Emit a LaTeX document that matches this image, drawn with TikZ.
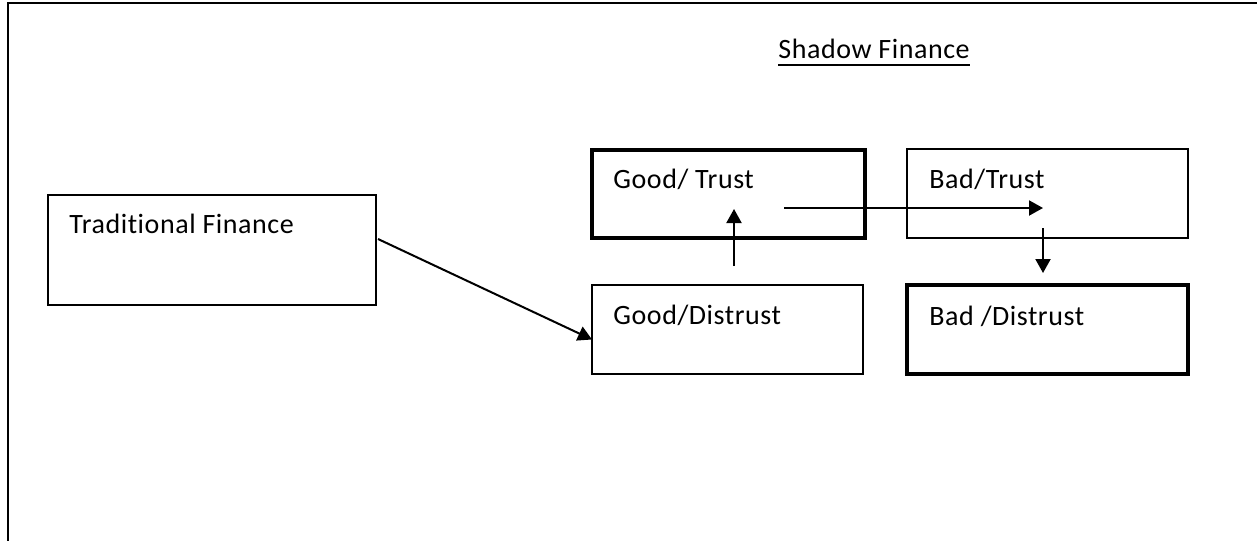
\documentclass[tikz,border=0pt]{standalone}
\usepackage{fontspec}
\setmainfont[Ligatures=NoCommon, LetterSpace=2]{Carlito}
\usetikzlibrary{arrows.meta,calc}
\tikzset{
  thinbox/.style={draw, line width=0.75pt, minimum width=#1, inner sep=0pt, outer sep=0pt, anchor=north west},
  thickbox/.style={draw, line width=1.6pt, minimum width=#1, inner sep=0pt, outer sep=0pt, anchor=north west},
  label text/.style={anchor=base west, inner sep=0pt, font=\fontsize{14}{16}\selectfont},
  flow/.style={line width=1pt, -{Triangle[length=7pt,width=7.5pt]}},
  frame/.style={line width=1pt}
}
\begin{document}
\begin{tikzpicture}[x=0.5pt, y=-0.5pt]
  \useasboundingbox (0,0) rectangle (1257,541);

  % outer frame (open at right and bottom)
  \coordinate (fr) at (1257,3);
  \coordinate (fc) at (8,3);
  \coordinate (fb) at (8,541);
  \draw[frame] (fr) -- (fc) -- (fb);

  % title
  \node[label text] (sf) at (778,58) {Shadow Finance};
  \draw[line width=0.75pt] ($(sf.base west)+(0,7)$) -- ($(sf.base east)+(0,7)$);

  % boxes
  \node[thinbox=164pt, minimum height=55pt] (trad) at (48,195) {};
  \node[thickbox=136.5pt, minimum height=44pt] (gt) at (592,150) {};
  \node[thinbox=135.5pt, minimum height=44.5pt] (gd) at (592,285) {};
  \node[thinbox=140.5pt, minimum height=44.5pt] (bt) at (907,149) {};
  \node[thickbox=140.5pt, minimum height=44.5pt] (bd) at (907,285) {};

  % box texts
  \node[label text] (tradt) at ($(trad.north west)+(21,38)$) {Traditional Finance};
  \node[label text] (gtt) at ($(gt.north west)+(21,38)$) {Good/ Trust};
  \node[label text] (gdt) at ($(gd.north west)+(21,39)$) {Good/Distrust};
  \node[label text] (btt) at ($(bt.north west)+(22,39)$) {Bad/Trust};
  \node[label text] (bdt) at ($(bd.north west)+(22,40)$) {Bad /Distrust};

  % connector end points
  \coordinate (upS) at ($(gd.north west)+(142,-19)$);
  \coordinate (upE) at ($(gt.south west)+(142,-29)$);
  \coordinate (rtS) at ($(gt.south west)+(192,-30)$);
  \coordinate (rtE) at (rtS -| {$(bt.south west)+(136,0)$});
  \coordinate (dnS) at ($(bt.south west)+(136,-10)$);
  \coordinate (dnE) at ($(bd.north west)+(136,-12)$);

  % connectors
  \draw[flow] ($(trad.east)+(2,-11)$) -- ($(gd.west)+(0,10)$);
  \draw[flow] (upS) -- (upE);
  \draw[flow] (rtS) -- (rtE);
  \draw[flow] (dnS) -- (dnE);
\end{tikzpicture}
\end{document}
